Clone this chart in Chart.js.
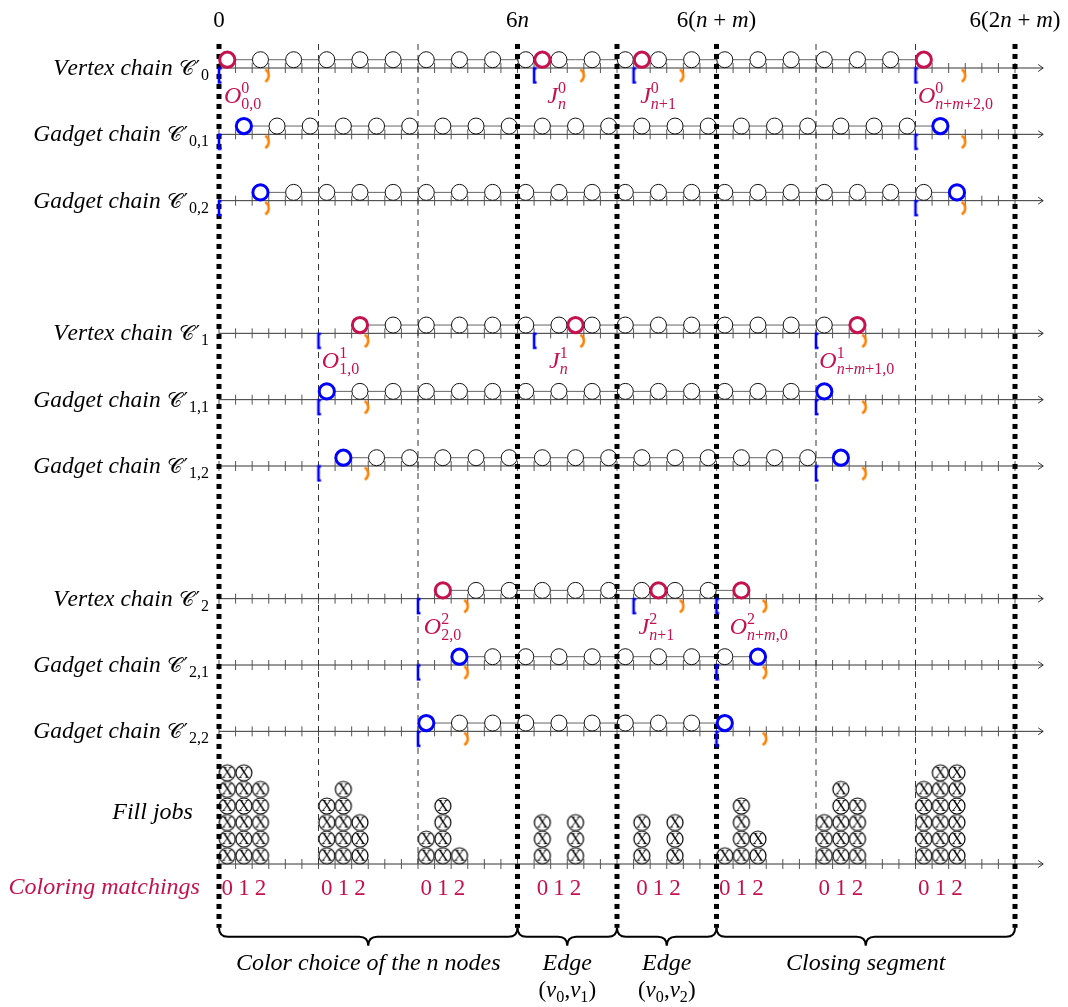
<!DOCTYPE html>
<html>
<head>
<meta charset="utf-8">
<script src="https://cdn.jsdelivr.net/npm/chart.js@4.4.0/dist/chart.umd.min.js"></script>
<style>
html, body { margin: 0; padding: 0; background: #fff; }
canvas { display: block; }
</style>
</head>
<body>
<canvas id="chart" width="1068" height="1007"></canvas>
<script>
// time axis in units, n = 3, m = 2  ->  6(2n+m) = 48
const boundaries = [0, 18, 24, 30, 48];
const dashedLines = [6, 12, 36, 42];
const topLabelX = [0, 18, 30, 48];
const topLabels = ['0', '6n', '6(n + m)', '6(2n + m)'];

const chainRows = [48, 44, 40, 32, 28, 24, 16, 12, 8];
const chainKinds = ['vertex', 'gadget', 'gadget', 'vertex', 'gadget', 'gadget', 'vertex', 'gadget', 'gadget'];
const chainNames = [['Vertex chain', '0'], ['Gadget chain', '0,1'], ['Gadget chain', '0,2'],
                    ['Vertex chain', '1'], ['Gadget chain', '1,1'], ['Gadget chain', '1,2'],
                    ['Vertex chain', '2'], ['Gadget chain', '2,1'], ['Gadget chain', '2,2']];

const blackJobs = [
  [2.5, 4.5, 6.5, 8.5, 10.5, 12.5, 14.5, 16.5, 18.5, 20.5, 22.5, 24.5, 26.5, 28.5, 30.5, 32.5, 34.5, 36.5, 38.5, 40.5],
  [3.5, 5.5, 7.5, 9.5, 11.5, 13.5, 15.5, 17.5, 19.5, 21.5, 23.5, 25.5, 27.5, 29.5, 31.5, 33.5, 35.5, 37.5, 39.5, 41.5],
  [4.5, 6.5, 8.5, 10.5, 12.5, 14.5, 16.5, 18.5, 20.5, 22.5, 24.5, 26.5, 28.5, 30.5, 32.5, 34.5, 36.5, 38.5, 40.5, 42.5],
  [10.5, 12.5, 14.5, 16.5, 18.5, 20.5, 22.5, 24.5, 26.5, 28.5, 30.5, 32.5, 34.5, 36.5],
  [8.5, 10.5, 12.5, 14.5, 16.5, 18.5, 20.5, 22.5, 24.5, 26.5, 28.5, 30.5, 32.5, 34.5],
  [9.5, 11.5, 13.5, 15.5, 17.5, 19.5, 21.5, 23.5, 25.5, 27.5, 29.5, 31.5, 33.5, 35.5],
  [15.5, 17.5, 19.5, 21.5, 23.5, 25.5, 27.5, 29.5],
  [16.5, 18.5, 20.5, 22.5, 24.5, 26.5, 28.5, 30.5],
  [14.5, 16.5, 18.5, 20.5, 22.5, 24.5, 26.5, 28.5]
];
const markedJobs = [
  [0.5, 19.5, 25.5, 42.5], [1.5, 43.5], [2.5, 44.5],
  [8.5, 21.5, 38.5], [6.5, 36.5], [7.5, 37.5],
  [13.5, 26.5, 31.5], [14.5, 32.5], [12.5, 30.5]
];
const releases = [
  [0, 19, 25, 42], [0, 42], [0, 42],
  [6, 19, 36], [6, 36], [6, 36],
  [12, 25, 30], [12, 30], [12, 30]
];
const deadlines = [
  [3, 22, 28, 45], [3, 45], [3, 45],
  [9, 22, 39], [9, 39], [9, 39],
  [15, 28, 33], [15, 33], [15, 33]
];
// job names under the vertex chains: [letter, sup, sub]
const jobNames = {
  0: [['O', '0', '0,0'], ['J', '0', 'n'], ['J', '0', 'n+1'], ['O', '0', 'n+m+2,0']],
  3: [['O', '1', '1,0'], ['J', '1', 'n'], ['O', '1', 'n+m+1,0']],
  6: [['O', '2', '2,0'], ['J', '2', 'n+1'], ['O', '2', 'n+m,0']]
};
const jobNameX = { 0: [0.3, 19.8, 25.4, 42.15], 3: [6.2, 19.9, 36.2], 6: [12.35, 25.3, 30.8] };

const fillX =       [0.5, 1.5, 2.5, 6.5, 7.5, 8.5, 12.5, 13.5, 14.5, 19.5, 21.5, 25.5, 27.5, 30.5, 31.5, 32.5, 36.5, 37.5, 38.5, 42.5, 43.5, 44.5];
const fillHeights = [6,   6,   5,   4,   5,   3,   2,    4,    1,    3,    3,    3,    3,    1,    4,    2,    3,    5,    4,    5,    6,    6];

const colorX = [0.5, 1.5, 2.5, 6.5, 7.5, 8.5, 12.5, 13.5, 14.5, 19.5, 20.5, 21.5,
                25.5, 26.5, 27.5, 30.5, 31.5, 32.5, 36.5, 37.5, 38.5, 42.5, 43.5, 44.5];
const colorText = ['0', '1', '2', '0', '1', '2', '0', '1', '2', '0', '1', '2',
                   '0', '1', '2', '0', '1', '2', '0', '1', '2', '0', '1', '2'];

const segments = [[0, 18], [18, 24], [24, 30], [30, 48]];
const segmentText = [['Color choice of the n nodes'], ['Edge', '(v0,v1)'], ['Edge', '(v0,v2)'], ['Closing segment']];

const FILL_ROW = 0;
const AXIS_END = 49.7;

const RED = '#c5124f', BLUE = '#0000ff', ORANGE = '#ff8000';
const FONT = '"Liberation Serif", "DejaVu Serif", serif';

// pixel frame
const U = 796 / 48, PX0 = 219, PY0 = 864;

function makeCanvas(w, h, fn) {
  const c = document.createElement('canvas');
  c.width = w; c.height = h;
  fn(c.getContext('2d'));
  return c;
}
const bracketImg = makeCanvas(12, 18, g => {
  g.strokeStyle = BLUE; g.lineWidth = 2.6;
  g.beginPath(); g.moveTo(8.5, 2); g.lineTo(6, 2); g.lineTo(6, 16); g.lineTo(8.5, 16); g.stroke();
});
const parenImg = makeCanvas(14, 18, g => {
  g.strokeStyle = ORANGE; g.lineWidth = 2.6;
  g.beginPath(); g.arc(0, 9, 7, -1.05, 1.05); g.stroke();
});
const xCircleImg = makeCanvas(20, 20, g => {
  g.beginPath(); g.arc(10, 10, 8, 0, Math.PI * 2);
  g.fillStyle = '#fff'; g.fill(); g.lineWidth = 1.2; g.strokeStyle = '#000'; g.stroke();
  g.fillStyle = '#000'; g.font = '16px ' + FONT; g.textAlign = 'center'; g.textBaseline = 'middle';
  g.fillText('X', 10, 10.5);
});

const datasets = [];
function addLine(pts, color, width, dash, order) {
  datasets.push({ data: pts, showLine: true, pointRadius: 0, borderColor: color, borderWidth: width,
                  borderDash: dash || [], borderCapStyle: 'butt', order: order });
}

const allRows = chainRows.concat([FILL_ROW]);
const tickUnits = Array.from({ length: 49 }, (_, i) => i);

allRows.forEach(r => addLine([{ x: 0, y: r }, { x: AXIS_END, y: r }], '#333', 1, null, 9));
datasets.push({
  data: allRows.flatMap(r => tickUnits.map(t => ({ x: t, y: r }))),
  pointStyle: 'line', pointRotation: 90, pointRadius: 5, pointBorderColor: '#555', pointBorderWidth: 1, order: 8
});

chainRows.forEach((r, i) => {
  const xs = blackJobs[i].concat(markedJobs[i]);
  addLine([{ x: Math.min(...xs), y: r + 0.5 }, { x: Math.max(...xs), y: r + 0.5 }], '#666', 1, null, 7);
  const col = chainKinds[i] === 'vertex' ? RED : BLUE;
  datasets.push({ data: markedJobs[i].map(x => ({ x, y: r + 0.5 })), pointRadius: 7.6,
                  pointBackgroundColor: '#fff', pointBorderColor: col, pointBorderWidth: 3, order: 3 });
  datasets.push({ data: releases[i].map(x => ({ x, y: r - 0.45 })), pointStyle: bracketImg, pointRadius: 5, order: 2 });
  datasets.push({ data: deadlines[i].map(x => ({ x, y: r - 0.45 })), pointStyle: parenImg, pointRadius: 5, order: 1 });
});
datasets.push({
  data: chainRows.flatMap((r, i) => blackJobs[i].map(x => ({ x, y: r + 0.5 }))),
  pointRadius: 8, pointBackgroundColor: '#fff', pointBorderColor: '#111', pointBorderWidth: 1, order: 6
});
datasets.push({
  data: fillX.flatMap((x, i) => Array.from({ length: fillHeights[i] }, (_, k) => ({ x, y: FILL_ROW + k + 0.5 }))),
  pointStyle: xCircleImg, pointRadius: 5, order: 6
});

boundaries.forEach(b => addLine([{ x: b, y: 49.45 }, { x: b, y: -3.85 }], '#000', 5, [5, 5], 4));
dashedLines.forEach(b => addLine([{ x: b, y: 49.45 }, { x: b, y: 0 }], '#333', 1, [6, 5], 5));

// ---- rich text helpers ----
function runsOf(ctx, parts) {
  const runs = [];
  let x = 0, lastStart = 0;
  for (const p of parts) {
    const start = (p.back ? lastStart : x) + (p.dx || 0);
    let cx = start;
    for (const ch of p.t) {
      const it = p.f === 'i' || (p.f === 'm' && /[A-Za-z]/.test(ch));
      const font = (it ? 'italic ' : '') + p.s + 'px ' + (p.font || FONT);
      ctx.font = font;
      runs.push({ ch, font, x: cx, dy: p.dy || 0 });
      cx += ctx.measureText(ch).width;
    }
    lastStart = start;
    x = p.back ? Math.max(x, cx) : cx;
  }
  return { runs, width: x };
}
function drawParts(ctx, parts, x, y, align, color) {
  const { runs, width } = runsOf(ctx, parts);
  const x0 = align === 'right' ? x - width : align === 'center' ? x - width / 2 : x;
  ctx.fillStyle = color;
  ctx.textAlign = 'left'; ctx.textBaseline = 'alphabetic';
  runs.forEach(r => { ctx.font = r.font; ctx.fillText(r.ch, x0 + r.x, y + r.dy); });
}
function subParts(str, size) {
  // "(v0,v1)" -> v italic, digits as subscripts
  const parts = [];
  for (const ch of str) {
    if (/[0-9]/.test(ch)) parts.push({ t: ch, s: size * 0.7, f: 'r', dy: 5 });
    else parts.push({ t: ch, s: size, f: 'm' });
  }
  return parts;
}

function brace(ctx, x1, x2, y0, a) {
  const xm = (x1 + x2) / 2;
  ctx.beginPath();
  ctx.moveTo(x1, y0);
  ctx.quadraticCurveTo(x1, y0 + a, x1 + a, y0 + a);
  ctx.lineTo(xm - a, y0 + a);
  ctx.quadraticCurveTo(xm, y0 + a, xm, y0 + 2 * a);
  ctx.quadraticCurveTo(xm, y0 + a, xm + a, y0 + a);
  ctx.lineTo(x2 - a, y0 + a);
  ctx.quadraticCurveTo(x2, y0 + a, x2, y0);
  ctx.stroke();
}

const overlay = {
  id: 'overlay',
  afterDatasetsDraw(chart) {
    const { ctx, scales: { x, y } } = chart;
    const px = v => x.getPixelForValue(v), py = v => y.getPixelForValue(v);
    ctx.save();

    // arrow heads
    ctx.strokeStyle = '#333'; ctx.lineWidth = 1;
    allRows.forEach(r => {
      const ax = px(AXIS_END), ay = py(r);
      ctx.beginPath(); ctx.moveTo(ax - 5, ay - 3.5); ctx.lineTo(ax, ay); ctx.lineTo(ax - 5, ay + 3.5); ctx.stroke();
    });

    // top labels
    topLabels.forEach((t, i) => drawParts(ctx, [{ t, s: 23, f: 'm' }], px(topLabelX[i]), py(50.45), 'center', '#000'));

    // row labels
    chainNames.forEach(([name, sub], i) => {
      drawParts(ctx, [
        { t: name + ' ', s: 23.5, f: 'i' },
        { t: '\u{1D49E}', s: 21, f: 'r' },
        { t: '\u2032', s: 20, f: 'r', dx: 2, font: '"DejaVu Serif", serif' },
        { t: sub, s: 16, f: 'r', dy: 5, dx: 1 }
      ], px(-0.6), py(chainRows[i] - 0.42), 'right', '#000');
    });
    drawParts(ctx, [{ t: 'Fill jobs', s: 24, f: 'i' }], px(-1.57), py(2.7), 'right', '#000');
    drawParts(ctx, [{ t: 'Coloring matchings', s: 24, f: 'i' }], px(-1.15), py(-1.8), 'right', RED);

    // job names
    Object.keys(jobNames).forEach(k => {
      const r = chainRows[k];
      jobNames[k].forEach(([L, sup, sub], j) => {
        drawParts(ctx, [
          { t: L, s: 24, f: 'i' },
          { t: sup, s: 16, f: 'r', dy: -10 },
          { t: sub, s: 16, f: 'm', dy: 6, back: true }
        ], px(jobNameX[k][j]), py(r - 2.12), 'left', RED);
      });
    });

    // coloring digits
    colorX.forEach((cx, i) => drawParts(ctx, [{ t: colorText[i], s: 23, f: 'r' }], px(cx), py(-1.85), 'center', RED));

    // braces + captions
    ctx.strokeStyle = '#000'; ctx.lineWidth = 2;
    segments.forEach(([a, b], i) => {
      brace(ctx, px(a), px(b), py(-3.85), 9);
      const lines = segmentText[i];
      drawParts(ctx, [{ t: lines[0], s: 24, f: 'i' }], px((a + b) / 2), py(-6.4), 'center', '#000');
      if (lines[1]) drawParts(ctx, subParts(lines[1], 23), px((a + b) / 2), py(-8.0), 'center', '#000');
    });
    ctx.restore();
  }
};

new Chart(document.getElementById('chart'), {
  type: 'scatter',
  data: { datasets },
  options: {
    responsive: false,
    animation: false,
    events: [],
    layout: { padding: 0, autoPadding: false },
    plugins: { legend: { display: false }, tooltip: { enabled: false } },
    scales: {
      x: { type: 'linear', display: false, min: -PX0 / U, max: (1068 - PX0) / U },
      y: { type: 'linear', display: false, min: -(1007 - PY0) / U, max: PY0 / U }
    }
  },
  plugins: [overlay]
});
</script>
</body>
</html>
